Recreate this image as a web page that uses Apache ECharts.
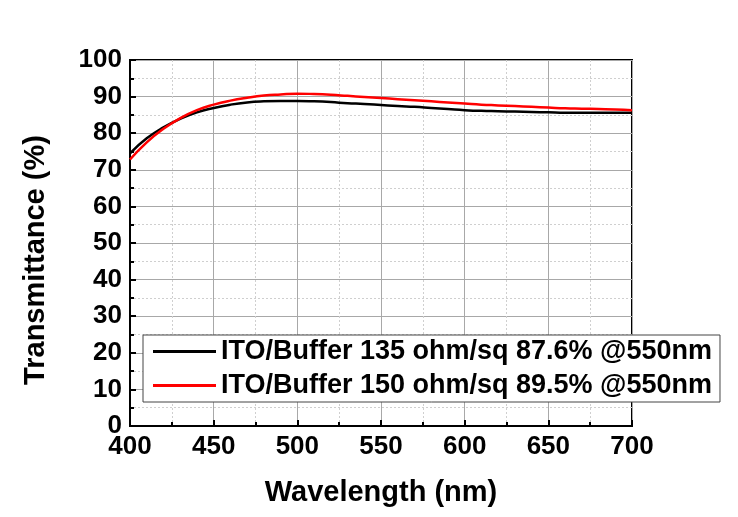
<!DOCTYPE html>
<html>
<head>
<meta charset="utf-8">
<script src="https://cdn.jsdelivr.net/npm/echarts@6/dist/echarts.min.js"></script>
<style>html,body{margin:0;padding:0;background:#fff}#c{width:738px;height:517px}</style>
</head>
<body>
<div id="c"></div>
<script>
const wavelengths = [400,410,420,430,440,450,460,470,480,490,500,510,520,530,540,550,560,570,580,590,600,610,620,630,640,650,660,670,680,690,700];
const seriesNames = ['ITO/Buffer 135 ohm/sq 87.6% @550nm', 'ITO/Buffer 150 ohm/sq 89.5% @550nm'];
const black135 = [74.5,78.6,81.6,83.9,85.7,86.9,87.8,88.4,88.7,88.8,88.8,88.7,88.5,88.2,88.0,87.7,87.4,87.2,86.9,86.6,86.3,86.1,86.0,85.9,85.8,85.7,85.6,85.6,85.6,85.6,85.6];
const red150 = [72.8,77.5,81.2,84.1,86.3,87.8,88.9,89.7,90.3,90.6,90.8,90.7,90.5,90.2,89.9,89.6,89.3,89.0,88.7,88.4,88.1,87.8,87.6,87.4,87.2,87.0,86.8,86.7,86.6,86.5,86.3];
const xTicks = {min: 400, max: 700, interval: 50};
const yTicks = {min: 0, max: 100, interval: 10};

const F = 'Liberation Sans, Arial, sans-serif';
const chart = echarts.init(document.getElementById('c'), null, {renderer: 'canvas'});
const pairs = arr => wavelengths.map((w, i) => [w, arr[i]]);
const axisCommon = {
  axisLine: {show: true, lineStyle: {color: '#000', width: 2}},
  axisTick: {show: true, inside: true, length: 6, lineStyle: {color: '#000', width: 2}},
  minorTick: {show: true, splitNumber: 2, length: 4, lineStyle: {color: '#000', width: 2}},
  splitLine: {show: true, lineStyle: {color: '#a8a8a8', width: 1}},
  minorSplitLine: {show: true, lineStyle: {color: '#cfcfcf', width: 1, type: [2, 2]}},
  axisLabel: {color: '#000', fontFamily: F, fontWeight: 'bold', fontSize: 26, margin: 8},
  nameTextStyle: {color: '#000', fontFamily: F, fontWeight: 'bold', fontSize: 29}
};
chart.setOption({
  animation: false,
  backgroundColor: '#fff',
  grid: {left: 130, right: 106, top: 60, bottom: 91, show: true, borderColor: '#000', borderWidth: 2, backgroundColor: 'transparent'},
  xAxis: Object.assign({}, axisCommon, {
    type: 'value', min: xTicks.min, max: xTicks.max, interval: xTicks.interval,
    name: 'Wavelength (nm)', nameLocation: 'middle', nameGap: 52
  }),
  yAxis: Object.assign({}, axisCommon, {
    type: 'value', min: yTicks.min, max: yTicks.max, interval: yTicks.interval,
    name: 'Transmittance (%)', nameLocation: 'middle', nameGap: 80,
    nameTextStyle: Object.assign({}, axisCommon.nameTextStyle, {padding: [0, 34, 0, 0]})
  }),
  legend: {
    orient: 'vertical', left: 143, top: 335,
    padding: [3, 8, 3, 10], itemGap: 7, itemWidth: 63, itemHeight: 3,
    icon: 'rect',
    backgroundColor: '#fff', borderColor: '#444', borderWidth: 1, borderRadius: 0,
    textStyle: {color: '#000', fontFamily: F, fontWeight: 'bold', fontSize: 27},
    data: seriesNames
  },
  series: [
    {name: seriesNames[0], type: 'line', data: pairs(black135), smooth: true, symbol: 'none', lineStyle: {color: '#000', width: 2.5}, itemStyle: {color: '#000'}, z: 3},
    {name: seriesNames[1], type: 'line', data: pairs(red150), smooth: true, symbol: 'none', lineStyle: {color: '#ff0000', width: 2.5}, itemStyle: {color: '#ff0000'}, z: 4}
  ]
});
</script>
</body>
</html>
